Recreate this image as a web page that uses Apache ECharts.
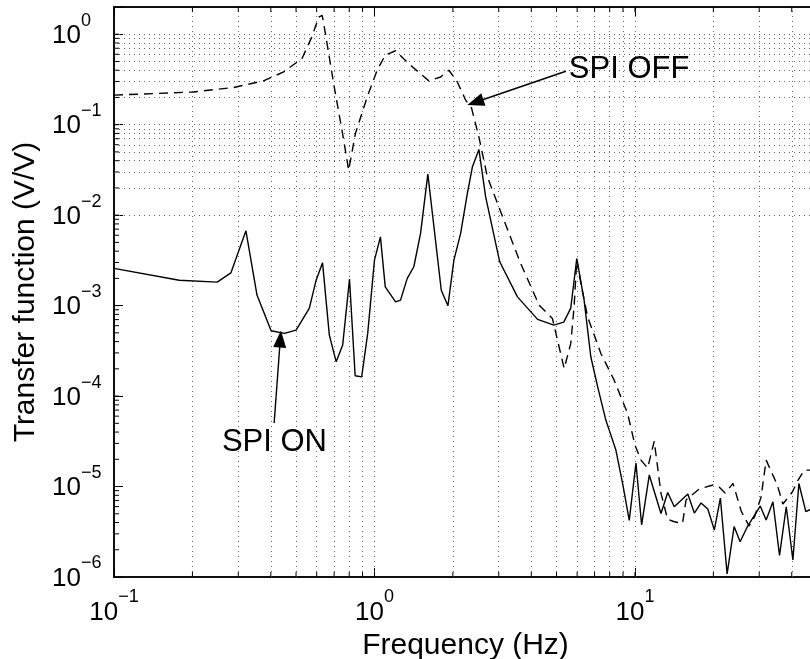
<!DOCTYPE html>
<html>
<head>
<meta charset="utf-8">
<script src="https://cdn.jsdelivr.net/npm/echarts@6/dist/echarts.min.js"></script>
<style>
html,body{margin:0;padding:0;background:#fff;}
#chart{width:810px;height:659px;}
</style>
</head>
<body>
<div id="chart"></div>
<script>
// SPI ON (solid)
const onFreq = [0.1,0.178,0.249,0.281,0.321,0.354,0.401,0.451,0.5,0.562,0.597,0.632,0.671,0.713,0.755,0.802,0.843,0.893,0.942,1.0,1.054,1.1,1.205,1.259,1.336,1.416,1.503,1.603,1.805,1.914,2.018,2.142,2.273,2.377,2.518,2.672,3.026,3.54,4.23,4.88,5.33,5.67,5.98,6.38,6.77,7.19,7.73,8.45,8.97,9.51,10.09,10.61,11.35,12.59,13.36,14.16,15.96,16.91,17.94,19.04,20.18,21.28,22.59,24.03,25.34,27.1,30.27,31.9,33.87,35.9,38.1,40.4,42.6,45.3,47.5,50];
const onVal = [2.58e-3,1.91e-3,1.82e-3,2.30e-3,6.71e-3,1.31e-3,5.27e-4,4.93e-4,5.36e-4,9.31e-4,1.91e-3,2.97e-3,4.72e-4,2.39e-4,3.66e-4,1.96e-3,1.68e-4,1.63e-4,4.93e-4,3.18e-3,5.75e-3,1.61e-3,1.10e-3,1.15e-3,2.00e-3,2.69e-3,6.28e-3,2.84e-2,1.48e-3,9.95e-4,3.18e-3,6.28e-3,1.74e-2,3.42e-2,5.32e-2,1.59e-2,3.05e-3,1.25e-3,7.05e-4,6.09e-4,6.57e-4,9.38e-4,3.32e-3,1.15e-3,2.72e-4,1.27e-4,5.43e-5,2.53e-5,1.08e-5,4.23e-6,1.82e-5,3.76e-6,1.34e-5,5.03e-6,8.59e-6,5.98e-6,8.26e-6,5.09e-6,6.58e-6,5.64e-6,3.31e-6,7.46e-6,1.08e-6,3.61e-6,2.45e-6,3.66e-6,6.09e-6,4.26e-6,6.79e-6,1.73e-6,5.98e-6,1.54e-6,1.08e-5,5.27e-6,5.64e-6,5.5e-6];

// SPI OFF (dashed)
const offFreq = [0.1,0.202,0.288,0.375,0.448,0.527,0.575,0.611,0.630,0.648,0.697,0.762,0.796,0.845,0.938,1.024,1.10,1.205,1.375,1.617,1.794,1.931,2.080,2.239,2.36,2.518,2.713,3.14,3.64,4.29,4.82,5.35,5.67,5.84,5.98,6.20,6.58,7.40,8.32,9.37,10.0,10.55,11.19,11.86,12.59,13.34,14.16,15.23,15.71,17.62,19.95,21.04,22.2,23.8,25.58,27.42,28.77,30.5,31.9,35.2,36.98,40.2,42.3,44.7,47.5,50];
const offVal = [0.212,0.230,0.258,0.305,0.383,0.539,0.933,1.55,1.62,1.02,0.285,0.0674,0.0314,0.0800,0.203,0.400,0.586,0.657,0.454,0.305,0.337,0.400,0.297,0.187,0.152,0.0728,0.0265,8.81e-3,2.93e-3,1.01e-3,7.22e-4,2.02e-4,3.82e-4,9.70e-4,3.18e-3,1.76e-3,7.52e-4,2.96e-4,1.50e-4,6.44e-5,2.88e-5,1.96e-5,1.60e-5,3.18e-5,8.41e-6,4.37e-6,4.08e-6,3.92e-6,7.10e-6,9.38e-6,1.04e-5,9.87e-6,8.48e-6,1.08e-5,5.36e-6,3.66e-6,4.60e-6,7.66e-6,1.96e-5,1.04e-5,6.41e-6,8.69e-6,1.18e-5,1.52e-5,1.52e-5,1.5e-5];

// axis ranges and grid multipliers
const xRange = [0.1, 50];
const yRange = [1e-6, 2];
const xDecades = [0.1, 1, 10];
const yDecades = [1e-6, 1e-5, 1e-4, 1e-3, 1e-2, 1e-1, 1];
const gridMult = [1,2,3,4,5,6,7,8,9];

// annotations
const annOff = {text: 'SPI OFF', textAt: [5.55, 0.405], from: [5.43, 0.39], to: [2.44, 0.177]};
const annOn = {text: 'SPI ON', textAt: [0.413, 3.06e-5], from: [0.412, 5.03e-5], to: [0.435, 4.27e-4]};

const FONT = '"Liberation Sans", Arial, Helvetica, sans-serif';

function gridVals(decades, range) {
  const out = [];
  decades.forEach(d => gridMult.forEach(m => {
    const v = +(d * m).toPrecision(6);
    if (v > range[0] * 1.0001 && v < range[1] * 0.9999) out.push(v);
  }));
  return out;
}
const xGrid = gridVals(xDecades, xRange);
const yGrid = gridVals(yDecades, yRange);

function powLabel(v) {
  const e = Math.log10(v);
  const r = Math.round(e);
  if (Math.abs(e - r) > 1e-6) return '';
  const s = r < 0 ? '\u2212' + (-r) : '' + r;
  return '{b|10}{e|' + s + '}';
}
const rich = {
  b: {fontSize: 26, lineHeight: 26, fontFamily: FONT, color: '#000', padding: [11, 0, 0, 0]},
  e: {fontSize: 18, lineHeight: 18, fontFamily: FONT, color: '#000', padding: [0, 0, 19, 0]}
};

const gridLineStyle = {color: '#666', width: 1, type: [1, 4]};
const MINOR_LEN = 5;

function minorTickX(params, api) {
  const v = api.value(0);
  const b = api.coord([v, yRange[0]]);
  const t = api.coord([v, yRange[1]]);
  return {type: 'group', children: [
    {type: 'line', shape: {x1: b[0], y1: b[1], x2: b[0], y2: b[1] - MINOR_LEN}, style: {stroke: '#000', lineWidth: 1}},
    {type: 'line', shape: {x1: t[0], y1: t[1], x2: t[0], y2: t[1] + MINOR_LEN}, style: {stroke: '#000', lineWidth: 1}}
  ]};
}
function minorTickY(params, api) {
  const v = api.value(1);
  const l = api.coord([xRange[0], v]);
  return {type: 'line', shape: {x1: l[0], y1: l[1], x2: l[0] + MINOR_LEN, y2: l[1]}, style: {stroke: '#000', lineWidth: 1}};
}

const chart = echarts.init(document.getElementById('chart'), null, {renderer: 'canvas'});
chart.setOption({
  animation: false,
  backgroundColor: '#fff',
  grid: {left: 114, right: -7, top: 7, bottom: 82, show: true, borderColor: '#000', borderWidth: 1.5,
         backgroundColor: 'transparent', containLabel: false, outerBoundsMode: 'none'},
  xAxis: [{
    type: 'log', logBase: 10, min: xRange[0], max: xRange[1], interval: 1,
    name: 'Frequency (Hz)', nameLocation: 'middle', nameGap: 35,
    nameTextStyle: {fontSize: 30, fontFamily: FONT, color: '#000'},
    axisLine: {lineStyle: {color: '#000', width: 1.5}},
    axisTick: {inside: true, length: 9, lineStyle: {color: '#000', width: 1}},
    axisLabel: {margin: 17, formatter: powLabel, rich: rich, color: '#000'},
    splitLine: {show: false}
  }, {
    type: 'log', logBase: 10, min: xRange[0], max: xRange[1], interval: 1, position: 'top',
    axisLine: {lineStyle: {color: '#000', width: 1.5}},
    axisTick: {inside: true, length: 9, lineStyle: {color: '#000', width: 1}},
    axisLabel: {show: false}, splitLine: {show: false}
  }],
  yAxis: {
    type: 'log', logBase: 10, min: yRange[0], max: yRange[1], interval: 1,
    name: 'Transfer function (V/V)', nameLocation: 'middle', nameGap: 72, nameRotate: 90,
    nameTextStyle: {fontSize: 30, fontFamily: FONT, color: '#000'},
    axisLine: {lineStyle: {color: '#000', width: 1.5}},
    axisTick: {inside: true, length: 9, lineStyle: {color: '#000', width: 1}},
    axisLabel: {margin: 62, align: 'left', formatter: powLabel, rich: rich, color: '#000', padding: [0, 0, 8, 0]},
    splitLine: {show: false}
  },
  series: [
    {
      type: 'line', data: [], silent: true, z: 1,
      markLine: {
        silent: true, symbol: 'none', z: 1, animation: false,
        label: {show: false},
        lineStyle: gridLineStyle,
        data: xGrid.map(v => ({xAxis: v})).concat(yGrid.map(v => ({yAxis: v})))
      }
    },
    {
      type: 'custom', silent: true, z: 3, clip: false,
      data: xGrid.map(v => [v, yRange[0]]),
      renderItem: minorTickX
    },
    {
      type: 'custom', silent: true, z: 3, clip: false,
      data: yGrid.map(v => [xRange[0], v]),
      renderItem: minorTickY
    },
    {
      name: 'SPI OFF', type: 'line', z: 10, showSymbol: false, symbol: 'none',
      data: offFreq.map((f, i) => [f, offVal[i]]),
      lineStyle: {color: '#000', width: 1.4, type: [9, 6]}
    },
    {
      name: 'SPI ON', type: 'line', z: 10, showSymbol: false, symbol: 'none',
      data: onFreq.map((f, i) => [f, onVal[i]]),
      lineStyle: {color: '#000', width: 1.4},
      markLine: {
        silent: true, z: 12, animation: false,
        symbol: ['none', 'triangle'], symbolSize: [13, 17],
        label: {show: false},
        lineStyle: {color: '#000', width: 1.4, type: 'solid'},
        itemStyle: {color: '#000'},
        data: [
          [{coord: annOff.from}, {coord: annOff.to}],
          [{coord: annOn.from}, {coord: annOn.to}]
        ]
      },
      markPoint: {
        silent: true, z: 12, animation: false,
        symbol: 'circle', symbolSize: 1, itemStyle: {color: 'rgba(0,0,0,0)'},
        data: [
          {coord: annOff.textAt, label: {show: true, formatter: annOff.text, position: 'right', distance: 0, fontSize: 31, fontFamily: FONT, color: '#000'}},
          {coord: annOn.textAt, label: {show: true, formatter: annOn.text, position: 'inside', fontSize: 31, fontFamily: FONT, color: '#000'}}
        ]
      }
    }
  ]
});
</script>
</body>
</html>
